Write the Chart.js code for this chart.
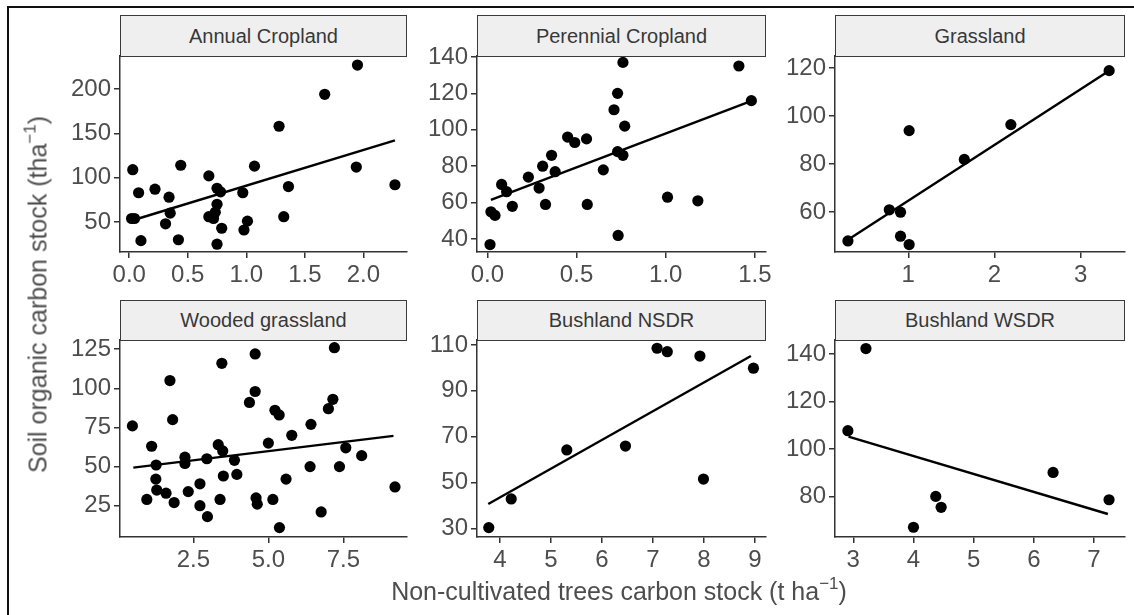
<!DOCTYPE html>
<html>
<head>
<meta charset="utf-8">
<script src="https://cdn.jsdelivr.net/npm/chart.js@4.4.1/dist/chart.umd.min.js"></script>
<style>
  html, body { margin: 0; padding: 0; background: #fff; }
  body { width: 1134px; height: 615px; position: relative; overflow: hidden;
         font-family: "Liberation Sans", Arial, sans-serif; }
  .frame-top { position: absolute; left: 7px; top: 6px; width: 1127px; height: 2px; background: #111; }
  .frame-left { position: absolute; left: 7px; top: 6px; width: 2px; height: 609px; background: #111; }
  canvas { position: absolute; }
  .strip { position: absolute; box-sizing: border-box; border: 1.5px solid #3a3a3a; background: #efefef;
           color: #383838; font-size: 20px; display: flex; align-items: center; justify-content: center; }
  .title { position: absolute; color: #4d4d4d; font-size: 25px; line-height: 25px; text-align: center;
           white-space: nowrap; }
  .title sup { font-size: 17px; line-height: 0; position: relative; top: -2px; }
</style>
</head>
<body>
<div class="frame-top"></div>
<div class="frame-left"></div>
<div id="panels"></div>
<div class="title" style="left:319px; top:579px; width:600px;">Non-cultivated trees carbon stock (t ha<sup>−1</sup>)</div>
<div class="title" style="left:-212px; top:282px; width:500px; transform:rotate(-90deg);">Soil organic carbon stock (tha<sup>−1</sup>)</div>

<script>
// facet titles
const panelNames = ["Annual Cropland", "Perennial Cropland", "Grassland",
                    "Wooded grassland", "Bushland NSDR", "Bushland WSDR"];

// Annual Cropland
const annualX = [0.03, 0.08, 0.02, 0.045, 0.10, 0.22, 0.34, 0.35, 0.31, 0.42, 0.44, 0.68, 0.75, 0.78, 0.75,
                 0.735, 0.68, 0.72, 0.79, 0.75, 0.97, 1.01, 0.98, 1.07, 1.28, 1.32, 1.36, 1.67, 1.95, 1.94, 2.27];
const annualY = [109, 83, 54, 54, 29, 87, 78, 60, 48, 30, 114, 102, 88, 84, 70,
                 61, 56, 54, 43, 25, 83, 51, 41, 113, 158, 56, 90, 194, 227, 112, 92];
const annualFitX = [0.03, 2.27];
const annualFitY = [52, 142];
const annualXTicks = [0, 0.5, 1, 1.5, 2];
const annualYTicks = [50, 100, 150, 200];

// Perennial Cropland
const perennialX = [0.015, 0.02, 0.043, 0.08, 0.108, 0.14, 0.23, 0.29, 0.31, 0.326, 0.36, 0.38, 0.45, 0.49,
                    0.556, 0.56, 0.65, 0.71, 0.73, 0.76, 0.77, 0.73, 0.76, 0.733, 1.01, 1.18, 1.41, 1.48];
const perennialY = [37, 55, 53, 70, 66, 58, 74, 68, 80, 59, 86, 77, 96, 93,
                    95, 59, 78, 111, 120, 137, 102, 88, 86, 42, 63, 61, 135, 116];
const perennialFitX = [0.02, 1.47];
const perennialFitY = [61.5, 115.5];
const perennialXTicks = [0, 0.5, 1, 1.5];
const perennialYTicks = [40, 60, 80, 100, 120, 140];

// Grassland
const grassX = [0.30, 0.78, 0.91, 0.91, 1.01, 1.01, 1.65, 2.19, 3.33];
const grassY = [48, 61, 60, 50, 46.5, 94, 82, 96.5, 119];
const grassFitX = [0.30, 3.33];
const grassFitY = [48.5, 119];
const grassXTicks = [1, 2, 3];
const grassYTicks = [60, 80, 100, 120];

// Wooded grassland
const woodedX = [0.47, 1.11, 0.95, 1.26, 1.25, 1.28, 1.59, 1.72, 1.81, 1.86, 2.22, 2.22, 2.33, 2.72, 2.72,
                 2.95, 2.97, 3.33, 3.45, 3.39, 3.5, 3.48, 3.87, 3.95, 4.37, 4.56, 4.56, 4.59, 4.63, 5.0,
                 5.15, 5.22, 5.36, 5.37, 5.59, 5.78, 6.39, 6.42, 6.76, 7.0, 7.15, 7.2, 7.37, 7.58, 8.11, 9.22];
const woodedY = [76, 63, 29, 51, 42, 35, 33, 105, 80, 27, 56, 52, 34, 39, 25,
                 55, 18, 64, 116, 29, 44, 60, 54, 45, 91, 122, 98, 30, 26, 65,
                 29, 86, 83, 11, 42, 70, 50, 77, 21, 87, 93, 126, 50, 62, 57, 37];
const woodedFitX = [0.5, 9.17];
const woodedFitY = [49.3, 69.6];
const woodedXTicks = [2.5, 5, 7.5];
const woodedYTicks = [25, 50, 75, 100, 125];

// Bushland NSDR
const nsdrX = [3.78, 4.22, 5.31, 6.46, 7.08, 7.28, 7.92, 7.99, 8.97];
const nsdrY = [30.3, 42.8, 64.2, 65.9, 108.6, 107.1, 105.2, 51.5, 99.9];
const nsdrFitX = [3.77, 8.92];
const nsdrFitY = [40.6, 105.2];
const nsdrXTicks = [4, 5, 6, 7, 8, 9];
const nsdrYTicks = [30, 50, 70, 90, 110];

// Bushland WSDR
const wsdrX = [2.91, 3.21, 4.0, 4.37, 4.46, 6.32, 7.25];
const wsdrY = [107.7, 142.3, 67, 80, 75.4, 90.1, 78.6];
const wsdrFitX = [2.92, 7.23];
const wsdrFitY = [105.2, 72.6];
const wsdrXTicks = [3, 4, 5, 6, 7];
const wsdrYTicks = [80, 100, 120, 140];

// layout
const PAD = 20, YW = 60, XH = 40;
const cols = [[120, 407], [477, 766], [835, 1125]];
const rows = [{ stripTop: 15, top: 56, bottom: 252 }, { stripTop: 300, top: 340, bottom: 537 }];
const FONT = "'Liberation Sans', Arial, sans-serif";

const panels = [
  { xs: annualX, ys: annualY, fx: annualFitX, fy: annualFitY, xt: annualXTicks, yt: annualYTicks,
    xr: [-0.079, 2.373], yr: [16.2, 237.2], dec: 1 },
  { xs: perennialX, ys: perennialY, fx: perennialFitX, fy: perennialFitY, xt: perennialXTicks, yt: perennialYTicks,
    xr: [-0.058, 1.562], yr: [32.9, 140.5], dec: 1 },
  { xs: grassX, ys: grassY, fx: grassFitX, fy: grassFitY, xt: grassXTicks, yt: grassYTicks,
    xr: [0.15, 3.514], yr: [43.4, 125.1], dec: 0 },
  { xs: woodedX, ys: woodedY, fx: woodedFitX, fy: woodedFitY, xt: woodedXTicks, yt: woodedYTicks,
    xr: [0.056, 9.62], yr: [5.0, 130.9], dec: 1 },
  { xs: nsdrX, ys: nsdrY, fx: nsdrFitX, fy: nsdrFitY, xt: nsdrXTicks, yt: nsdrYTicks,
    xr: [3.549, 9.216], yr: [26.2, 112.2], dec: 0 },
  { xs: wsdrX, ys: wsdrY, fx: wsdrFitX, fy: wsdrFitY, xt: wsdrXTicks, yt: wsdrYTicks,
    xr: [2.696, 7.515], yr: [62.9, 145.9], dec: 0 },
];

const axisStyle = (range, ticks, dec, fit) => ({
  type: "linear",
  min: range[0],
  max: range[1],
  afterBuildTicks: (axis) => { axis.ticks = ticks.map((v) => ({ value: v })); },
  afterFit: fit,
  ticks: {
    callback: (v) => Number(v).toFixed(dec),
    color: "#4d4d4d",
    font: { family: FONT, size: 24 },
    padding: 3,
    maxRotation: 0,
    autoSkip: false,
  },
  grid: { drawOnChartArea: false, drawTicks: true, tickLength: 6, color: "#333", lineWidth: 1.5 },
  border: { display: true, color: "#333", width: 1.5 },
});

const holder = document.getElementById("panels");

panels.forEach((p, i) => {
  const [l, r] = cols[i % 3];
  const row = rows[Math.floor(i / 3)];

  const cnv = document.createElement("canvas");
  cnv.width = r - l + YW + 2 * PAD;
  cnv.height = row.bottom - row.top + XH + 2 * PAD;
  cnv.style.left = l - YW - PAD + "px";
  cnv.style.top = row.top - PAD + "px";
  holder.appendChild(cnv);

  const strip = document.createElement("div");
  strip.className = "strip";
  strip.style.left = l + "px";
  strip.style.top = row.stripTop + "px";
  strip.style.width = r - l + "px";
  strip.style.height = row.top - row.stripTop + 1 + "px";
  strip.textContent = panelNames[i];
  holder.appendChild(strip);

  new Chart(cnv.getContext("2d"), {
    type: "scatter",
    data: {
      datasets: [
        {
          data: p.xs.map((x, k) => ({ x, y: p.ys[k] })),
          backgroundColor: "#000",
          borderColor: "#000",
          borderWidth: 0,
          pointRadius: 5.6,
          pointHoverRadius: 5.6,
        },
        {
          type: "line",
          data: p.fx.map((x, k) => ({ x, y: p.fy[k] })),
          borderColor: "#000",
          borderWidth: 2.4,
          pointRadius: 0,
          fill: false,
          tension: 0,
        },
      ],
    },
    options: {
      responsive: false,
      animation: false,
      events: [],
      layout: { padding: PAD },
      plugins: { legend: { display: false }, tooltip: { enabled: false } },
      scales: {
        x: axisStyle(p.xr, p.xt, p.dec, (s) => { s.height = XH; }),
        y: axisStyle(p.yr, p.yt, 0, (s) => { s.width = YW; }),
      },
    },
  });
});
</script>
</body>
</html>
